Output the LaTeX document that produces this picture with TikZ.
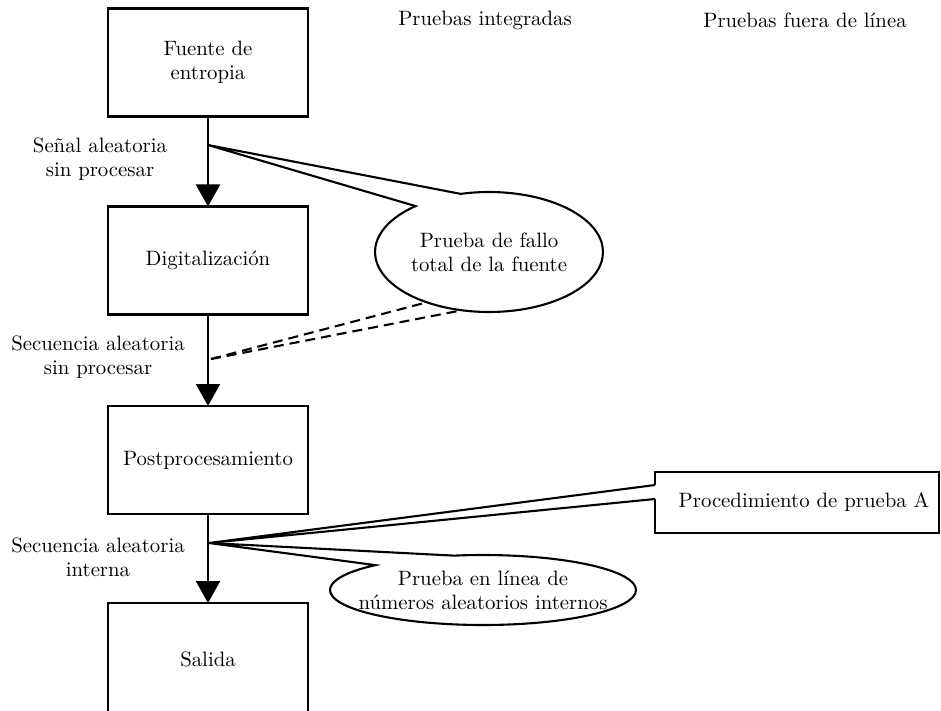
\documentclass[tikz,border=0pt]{standalone}
\usetikzlibrary{arrows.meta,shapes.geometric,calc}
\begin{document}
\begin{tikzpicture}[x=0.5pt,y=-0.5pt,
  every node/.append style={font=\fontsize{10.4pt}{12pt}\selectfont},
  stage/.style={draw, line width=1.2pt, minimum width=100pt, minimum height=54pt,
    align=center, inner sep=0pt, outer sep=0pt},
  flow/.style={line width=1.05pt, -{Triangle[width=12pt,length=11pt]}},
  bubble/.style={ellipse, fill=white, inner sep=0pt, outer sep=0pt},
  lbl/.style={align=center, inner sep=0pt},
  tail/.style={line width=1.05pt, line join=miter},
  dashtail/.style={line width=1.05pt, dash pattern=on 5pt off 3pt}
]
\useasboundingbox (0,0) rectangle (941,711);
\clip (0,0) rectangle (941,711);

% column headers
\node[lbl] (hin)  at (485,20) {Pruebas integradas};
\node[lbl] (hoff) at (805,20) {Pruebas fuera de línea};

% processing chain
\node[stage] (src)  at (208,62.5) {Fuente de\\entropia};
\node[stage] (dig)  at (208,260.5) {Digitalización};
\node[stage] (post) at (208,460) {Postprocesamiento};
\node[stage, minimum height=56pt, anchor=north] (out) at (208,603) {Salida};

\draw[flow] (src) -- (dig);
\draw[flow] (dig) -- (post);
\draw[flow] (post) -- (out);

% signal labels
\node[lbl] (l1) at (100,159) {Señal aleatoria\\sin procesar};
\node[lbl] (l2) at (98,357) {Secuencia aleatoria\\sin procesar};
\node[lbl] (l3) at (98,557) {Secuencia aleatoria\\interna};

% tap points on the chain
\coordinate (j1) at (208,145);
\coordinate (j2) at (211,359);
\coordinate (j3) at (209,543);

% total failure test bubble (outline drawn together with its tail)
\node[bubble, minimum width=114pt, minimum height=60pt] (e1) at (489,252) {};
\node[lbl] (t1) at (e1) {Prueba de fallo\\total de la fuente};
\coordinate (a1) at ([shift={(104.4:57pt and 30pt)}]e1.center);
\coordinate (b1) at ([shift={(130.1:57pt and 30pt)}]e1.center);
\draw[tail] (a1) -- (j1) -- (b1)
  arc[start angle=130.1, end angle=464.4, x radius=57pt, y radius=30pt] -- cycle;
\draw[dashtail] (j2) -- (e1.219);
\draw[dashtail] (j2) -- (e1.245);

% online test bubble
\node[bubble, minimum width=153pt, minimum height=35pt] (e2) at (483,590) {};
\node[lbl] (t2) at (e2) {Prueba en línea de\\números aleatorios internos};
\coordinate (a2) at ([shift={(100.9:76.5pt and 17.5pt)}]e2.center);
\coordinate (b2) at ([shift={(134.7:76.5pt and 17.5pt)}]e2.center);
\draw[tail] (a2) -- (j3) -- (b2)
  arc[start angle=134.7, end angle=460.9, x radius=76.5pt, y radius=17.5pt] -- cycle;

% offline procedure box
\node[draw, line width=1.2pt, minimum width=142pt, minimum height=30.5pt,
  inner sep=0pt, outer sep=0pt] (proc) at (797,502.5) {};
\node[lbl] (tp) at (804,502) {Procedimiento de prueba A};
\coordinate (p1) at ([yshift=8.75pt]proc.west);
\coordinate (p2) at ([yshift=1.75pt]proc.west);
\draw[white, line width=2pt] (p1) -- (p2);
\draw[tail] (p1) -- (j3) -- (p2);
\end{tikzpicture}
\end{document}
